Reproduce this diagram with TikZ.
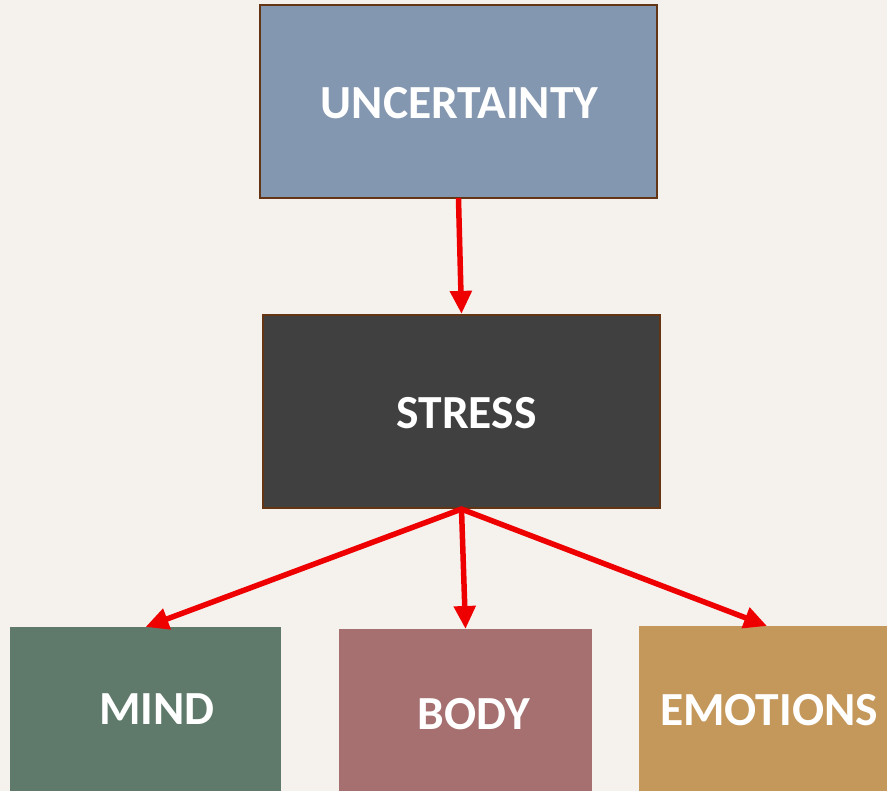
\documentclass[tikz,border=0pt]{standalone}
\usepackage{fontspec}
\setmainfont{Carlito}
\usetikzlibrary{arrows.meta}
\definecolor{bg}{HTML}{F5F2EE}
\definecolor{uncfill}{HTML}{8497B0}
\definecolor{strfill}{HTML}{404040}
\definecolor{brownedge}{HTML}{643515}
\definecolor{mindfill}{HTML}{5F7A6B}
\definecolor{bodyfill}{HTML}{A5706F}
\definecolor{emofill}{HTML}{C4975B}
\definecolor{arrowred}{HTML}{EE0000}
\tikzset{
  topbox/.style={draw=brownedge, line width=2.2pt, minimum width=397pt, minimum height=193pt, inner sep=0pt},
  lowbox/.style={draw=none, inner sep=0pt, anchor=north},
  lbl/.style={text=white, font=\bfseries\fontsize{47.5}{47.5}\selectfont, inner sep=0pt},
  redarrow/.style={draw=arrowred, line width=5.5pt, -{Triangle[length=23pt,width=21pt]}, shorten <=-1pt}
}
\begin{document}
\begin{tikzpicture}[x=1pt,y=-1pt]
  \useasboundingbox (0,0) rectangle (887,791);
  \clip (0,0) rectangle (887,791);
  \fill[bg] (0,0) rectangle (887,791);
  % top boxes
  \node[topbox, fill=uncfill] (unc) at (458.5,101.5) {};
  \node[lbl] (unctxt) at (459.5,103) {UNCERTAINTY};
  \node[topbox, fill=strfill] (str) at (461.5,411.5) {};
  \node[lbl] (strtxt) at (466.5,413) {STRESS};
  % bottom boxes
  \node[lowbox, fill=mindfill, minimum width=271pt, minimum height=180pt] (mind) at (145.5,627) {};
  \node[lbl] (mindtxt) at (157,709) {MIND};
  \node[lowbox, fill=bodyfill, minimum width=253pt, minimum height=180pt] (body) at (465.5,629) {};
  \node[lbl] (bodytxt) at (474,714) {BODY};
  \node[lowbox, fill=emofill, minimum width=256pt, minimum height=180pt] (emo) at (767,626) {};
  \node[lbl] (emotxt) at (769,710) {EMOTIONS};
  % arrows
  \draw[redarrow] (unc.south) -- (str.north);
  \draw[redarrow] (str.south) -- (mind.north);
  \draw[redarrow] (str.south) -- (body.north);
  \draw[redarrow] (str.south) -- (emo.north);
\end{tikzpicture}
\end{document}
